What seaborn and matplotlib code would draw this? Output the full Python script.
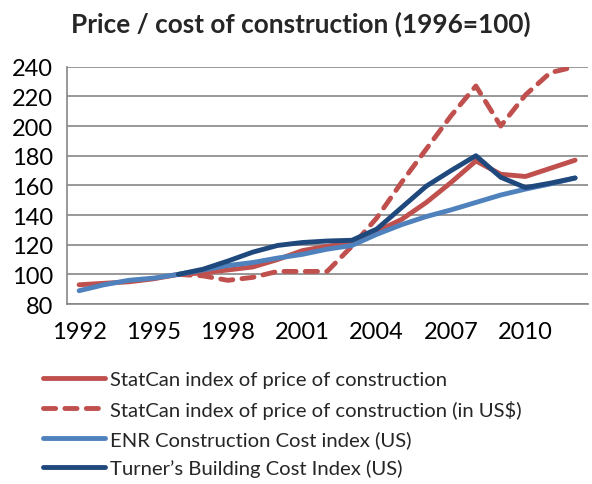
import numpy as np
import pandas as pd
import matplotlib
matplotlib.use("Agg")
import matplotlib.pyplot as plt
import seaborn as sns

# Data (index, 1996 = 100)
years = list(range(1992, 2013))
statcan = [93, 94, 95, 97, 100, 101, 103, 105, 110, 116, 119, 121,
           129, 137, 148.5, 162, 176.5, 167.5, 166, 171.5, 177]
statcan_usd = [np.nan, np.nan, np.nan, np.nan, 100, 99, 96, 98, 102, 102, 102, 119,
               138, 162, 184.5, 207, 227, 200, 221, 236, 240]
enr = [89, 93, 96, 97.5, 100, 103, 106, 108, 111, 113.5, 117, 119.5,
       127, 133.5, 139, 143.5, 148.5, 153.5, 157.5, 161, 165]
turner = [np.nan, np.nan, np.nan, np.nan, 100, 103.5, 109, 115, 119.5, 121.5, 122.5, 123,
          130.5, 145, 159.5, 170, 180, 165.5, 158.5, 161.5, 165]

series_names = [
    "StatCan index of price of construction",
    "StatCan index of price of construction (in US$)",
    "ENR Construction Cost index (US)",
    "Turner\u2019s Building Cost Index (US)",
]
series_values = [statcan, statcan_usd, enr, turner]
y_ticks = list(range(80, 241, 20))
x_labels = [1992, 1995, 1998, 2001, 2004, 2007, 2010]

colors = ["#C0504D", "#C0504D", "#4F81BD", "#1F497D"]
dashed = [False, True, False, False]

sns.set_theme(style="white")
plt.rcParams["font.family"] = ["Lato", "DejaVu Sans"]

fig = plt.figure(figsize=(5.92, 4.85), dpi=100)
ax = fig.add_axes([0.1127, 0.371, 0.8797, 0.4894])

for name, vals, col, dash in zip(series_names, series_values, colors, dashed):
    df = pd.DataFrame({"year": years, "value": vals}).dropna()
    sns.lineplot(data=df, x="year", y="value", ax=ax, color=col, lw=3.5,
                 label=name, solid_capstyle="round", solid_joinstyle="round")
    line = ax.get_lines()[-1]
    if dash:
        line.set_dashes((2.5, 1.9))
        line.set_dash_capstyle("round")

ax.set_xlim(1991.5, 2012.5)
ax.set_ylim(80, 240)
ax.set_yticks(y_ticks)
ax.set_xticks(x_labels)
ax.set_xticks(np.arange(1991.5, 2013, 1), minor=True)
ax.tick_params(axis="x", which="major", length=0, pad=12, labelsize=17, colors="black")
ax.tick_params(axis="x", which="minor", length=7, width=1.2, color="#868686", direction="out")
ax.tick_params(axis="y", length=7, width=1.2, color="#868686", direction="out", pad=3,
               labelsize=17, labelcolor="black")
ax.yaxis.grid(True, color="#868686", lw=1.2)
ax.set_axisbelow(True)
for side in ["top", "right"]:
    ax.spines[side].set_visible(False)
for side in ["left", "bottom"]:
    ax.spines[side].set_color("#868686")
    ax.spines[side].set_linewidth(1.2)
ax.set_xlabel("")
ax.set_ylabel("")

handles, labels = ax.get_legend_handles_labels()
ax.get_legend().remove()
fig.legend(handles, labels, loc="upper left", bbox_to_anchor=(0.072, 0.233),
           frameon=False, fontsize=14.6, handlelength=3.1, handletextpad=0.22,
           labelspacing=0.56, borderpad=0, borderaxespad=0)

fig.suptitle("Price / cost of construction (1996=100)", x=0.508, y=0.975,
             fontsize=18.8, fontweight="bold", va="top")

fig.savefig("out.png", dpi=100)
